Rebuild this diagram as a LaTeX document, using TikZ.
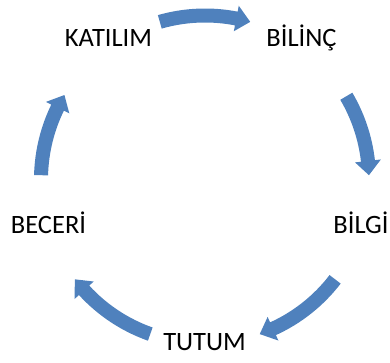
\documentclass[tikz,border=0pt]{standalone}
\usepackage{fontspec}
\setmainfont{Carlito}
\definecolor{arrowblue}{RGB}{79,129,189}
\newcommand\cycarrow[2]{%
  \fill[arrowblue] (#1:171pt) arc[start angle=#1, end angle=#2+5, radius=171pt]
    -- (#2+5:177pt) -- (#2:164pt) -- (#2+5:151pt) -- (#2+5:157pt)
    arc[start angle=#2+5, end angle=#1, radius=157pt] -- cycle;}
\begin{document}
\begin{tikzpicture}[x=1pt,y=1pt,
  lbl/.style={font=\fontsize{26.5}{30}\selectfont, anchor=base, inner sep=0pt}]
\useasboundingbox (0,0) rectangle (390,-363);
\node[lbl] (bilinc) at (301.5,-47) {BİLİNÇ};
\node[lbl] (katilim) at (108.5,-47) {KATILIM};
\node[lbl] (bilgi) at (361,-233) {BİLGİ};
\node[lbl] (beceri) at (48.5,-233) {BECERİ};
\node[lbl] (tutum) at (204.5,-350) {TUTUM};
\begin{scope}[shift={(205,-179.5)}]
\cycarrow{106}{74}
\cycarrow{30.5}{1.5}
\cycarrow{-37.5}{-70.5}
\cycarrow{250.5}{217.5}
\cycarrow{178.5}{149}
\end{scope}
\end{tikzpicture}
\end{document}
